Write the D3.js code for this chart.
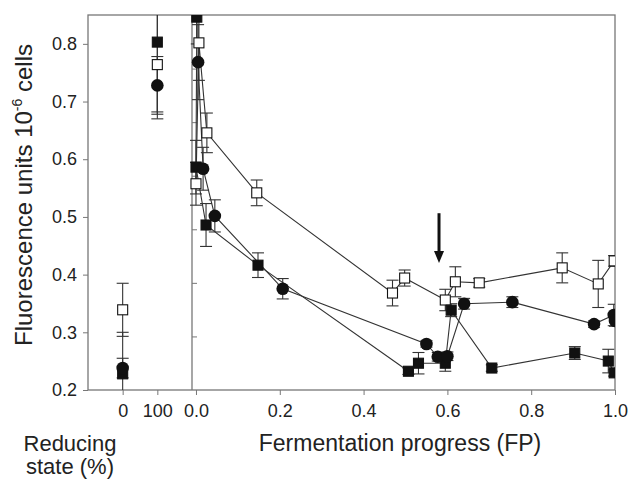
<!DOCTYPE html>
<html>
<head>
<meta charset="utf-8">
<script src="https://cdn.jsdelivr.net/npm/d3@7"></script>
<style>
  body { margin: 0; background: #fff; }
  svg text { font-family: "Liberation Sans", Arial, sans-serif; fill: #222; }
</style>
</head>
<body>
<svg id="chart" width="629" height="481"></svg>
<script>
// left panel: reducing state (%)
const stateX = [0, 100];
const stateOpen = [0.339, 0.764];
const stateOpenErr = [0.046, 0.094];
const stateSquare = [0.228, 0.803];
const stateSquareErr = [0.072, 0.121];
const stateCircle = [0.238, 0.728];
const stateCircleErr = [0.017, 0.05];

// right panel: fermentation progress (FP)
const fpOpen = [0.0, 0.007, 0.026, 0.145, 0.469, 0.498, 0.595, 0.619, 0.676, 0.874, 0.96, 0.998];
const valOpen = [0.585, 0.848, 0.68, 0.568, 0.381, 0.409, 0.368, 0.402, 0.4, 0.428, 0.398, 0.441];
const errOpen = [0.04, 0.07, 0.037, 0.024, 0.024, 0.015, 0.02, 0.028, 0.008, 0.028, 0.044, 0.01];

const fpSquare = [0.002, 0.0, 0.024, 0.148, 0.507, 0.531, 0.595, 0.609, 0.706, 0.904, 0.984, 0.998];
const valSquare = [0.896, 0.616, 0.508, 0.433, 0.235, 0.25, 0.25, 0.349, 0.241, 0.269, 0.254, 0.232];
const errSquare = [0.05, 0.05, 0.04, 0.023, 0.006, 0.02, 0.015, 0.012, 0.006, 0.012, 0.022, 0.006];

const fpCircle = [0.005, 0.017, 0.045, 0.207, 0.55, 0.577, 0.6, 0.64, 0.755, 0.95, 0.997, 1.0];
const valCircle = [0.812, 0.613, 0.525, 0.389, 0.286, 0.262, 0.263, 0.361, 0.364, 0.323, 0.34, 0.329];
const errCircle = [0.07, 0.04, 0.03, 0.019, 0.006, 0.008, 0.008, 0.01, 0.01, 0.006, 0.02, 0.01];

const yTicksLeft = [0.2, 0.3, 0.4, 0.5, 0.6, 0.7, 0.8];
const yTicksRight = [0.3, 0.4, 0.5, 0.6, 0.7, 0.8];
const xTicksRight = [0.0, 0.2, 0.4, 0.6, 0.8, 1.0];
const arrowFP = 0.58;
const arrowFrom = 0.53, arrowTo = 0.437;

var svg = d3.select('#chart');

// frame edges (px)
var plotTop = 15, plotBottom = 390, plotLeft = 88, plotMid = 192, plotRight = 615;

var yLeft = d3.scaleLinear().domain([0.2, 0.85]).range([plotBottom, plotTop]);
var yRight = d3.scaleLinear().domain([0.2, 0.9]).range([plotBottom, plotTop]);
var xLeft = d3.scaleLinear().domain([-100, 200]).range([plotLeft, plotMid]);
var xRight = d3.scaleLinear().domain([-0.0095, 1.0]).range([plotMid, plotRight]);

svg.append('defs').append('clipPath').attr('id', 'plotclip')
  .append('rect').attr('x', plotLeft).attr('y', plotTop)
  .attr('width', plotRight - plotLeft).attr('height', plotBottom - plotTop);

// axes
var frameColor = '#777';
function styleAxis(g) {
  g.attr('font-size', null).attr('font-family', null);
  g.select('.domain').remove();
  g.selectAll('line').attr('stroke', frameColor);
  g.selectAll('text').style('font-size', '18px').style('fill', '#222');
}

svg.append('g')
  .attr('transform', `translate(${plotLeft},0)`)
  .call(d3.axisLeft(yLeft).tickValues(yTicksLeft).tickFormat(d3.format('.1f')).tickSize(5).tickPadding(6))
  .call(styleAxis);

svg.append('g')
  .attr('transform', `translate(${plotMid},0)`)
  .call(d3.axisRight(yRight).tickValues(yTicksRight).tickFormat('').tickSize(5))
  .call(styleAxis);

svg.append('g')
  .attr('transform', `translate(0,${plotBottom})`)
  .call(d3.axisBottom(xLeft).tickValues(stateX).tickFormat(d3.format('d')).tickSize(5).tickPadding(9))
  .call(styleAxis);

svg.append('g')
  .attr('transform', `translate(0,${plotBottom})`)
  .call(d3.axisBottom(xRight).tickValues(xTicksRight).tickFormat(d3.format('.1f')).tickSize(5).tickPadding(9))
  .call(styleAxis);

// frame
svg.append('rect')
  .attr('x', plotLeft).attr('y', plotTop)
  .attr('width', plotRight - plotLeft).attr('height', plotBottom - plotTop)
  .attr('fill', 'none').attr('stroke', frameColor).attr('stroke-width', 1.3);
svg.append('line')
  .attr('x1', plotMid).attr('x2', plotMid).attr('y1', plotTop).attr('y2', plotBottom)
  .attr('stroke', frameColor).attr('stroke-width', 1.3);

// axis titles
svg.append('text')
  .attr('transform', 'translate(32,195) rotate(-90)')
  .attr('text-anchor', 'middle')
  .style('font-size', '24px')
  .call(t => {
    t.append('tspan').text('Fluorescence units 10');
    t.append('tspan').style('font-size', '14px').attr('dy', -10).text('-6');
    t.append('tspan').attr('dy', 10).text(' cells');
  });

svg.append('text')
  .attr('x', 70).attr('y', 451)
  .attr('text-anchor', 'middle').style('font-size', '22px')
  .text('Reducing');
svg.append('text')
  .attr('x', 70).attr('y', 474)
  .attr('text-anchor', 'middle').style('font-size', '22px')
  .text('state (%)');

svg.append('text')
  .attr('x', 400).attr('y', 451)
  .attr('text-anchor', 'middle').style('font-size', '23px')
  .text('Fermentation progress (FP)');

var plot = svg.append('g').attr('clip-path', 'url(#plotclip)');

function series(xs, ys, errs, x, y) {
  return xs.map((d, i) => ({ x: x(d), y: y(ys[i]), lo: y(ys[i] - errs[i]), hi: y(ys[i] + errs[i]) }));
}

var sets = [
  { kind: 'open', left: series(stateX, stateOpen, stateOpenErr, xLeft, yLeft), right: series(fpOpen, valOpen, errOpen, xRight, yRight) },
  { kind: 'square', left: series(stateX, stateSquare, stateSquareErr, xLeft, yLeft), right: series(fpSquare, valSquare, errSquare, xRight, yRight) },
  { kind: 'circle', left: series(stateX, stateCircle, stateCircleErr, xLeft, yLeft), right: series(fpCircle, valCircle, errCircle, xRight, yRight) }
];

var line = d3.line().x(d => d.x).y(d => d.y);

// connecting lines (right panel only)
sets.forEach(s => {
  plot.append('path')
    .datum(s.right)
    .attr('d', line)
    .attr('fill', 'none')
    .attr('stroke', '#333')
    .attr('stroke-width', 1.1);
});

// error bars
sets.forEach(s => {
  var pts = s.left.concat(s.right);
  var eb = plot.append('g').attr('stroke', '#333').attr('stroke-width', 1.1);
  eb.selectAll('.bar').data(pts).enter().append('line')
    .attr('x1', d => d.x).attr('x2', d => d.x)
    .attr('y1', d => d.lo).attr('y2', d => d.hi);
  eb.selectAll('.caplo').data(pts).enter().append('line')
    .attr('x1', d => d.x - 6).attr('x2', d => d.x + 6)
    .attr('y1', d => d.lo).attr('y2', d => d.lo);
  eb.selectAll('.caphi').data(pts).enter().append('line')
    .attr('x1', d => d.x - 6).attr('x2', d => d.x + 6)
    .attr('y1', d => d.hi).attr('y2', d => d.hi);
});

// markers
sets.forEach(s => {
  var pts = s.left.concat(s.right);
  var g = plot.append('g');
  if (s.kind === 'circle') {
    g.selectAll('circle').data(pts).enter().append('circle')
      .attr('cx', d => d.x).attr('cy', d => d.y).attr('r', 6.3)
      .attr('fill', '#111');
  } else {
    g.selectAll('rect').data(pts).enter().append('rect')
      .attr('x', d => d.x - 5).attr('y', d => d.y - 5)
      .attr('width', 10).attr('height', 10)
      .attr('fill', s.kind === 'open' ? '#fff' : '#111')
      .attr('stroke', '#111').attr('stroke-width', 1.1);
  }
});

// arrow marking FP ~ 0.58
var ax = xRight(arrowFP), ay1 = yRight(arrowFrom), ay2 = yRight(arrowTo);
svg.append('line')
  .attr('x1', ax).attr('x2', ax).attr('y1', ay1).attr('y2', ay2 - 10)
  .attr('stroke', '#111').attr('stroke-width', 3);
svg.append('path')
  .attr('d', `M${ax - 5},${ay2 - 12} L${ax + 5},${ay2 - 12} L${ax},${ay2} Z`)
  .attr('fill', '#111');
</script>
</body>
</html>
